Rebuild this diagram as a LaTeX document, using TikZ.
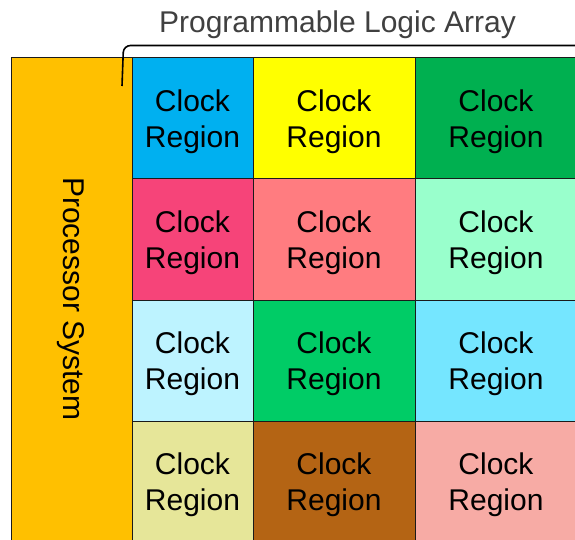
\documentclass[tikz,border=0pt]{standalone}
\usepackage{fontspec}
\setmainfont{Liberation Sans}
\definecolor{psorange}{HTML}{FFC000}
\definecolor{rblue}{HTML}{00B0F0}
\definecolor{ryellow}{HTML}{FFFF00}
\definecolor{rgreen}{HTML}{00B050}
\definecolor{rpink}{HTML}{F64479}
\definecolor{rsalmon}{HTML}{FF7C80}
\definecolor{rmint}{HTML}{99FFCC}
\definecolor{rice}{HTML}{BDF3FF}
\definecolor{rlime}{HTML}{00CC66}
\definecolor{rcyan}{HTML}{75E6FF}
\definecolor{rkhaki}{HTML}{E6E699}
\definecolor{rbrown}{HTML}{B46414}
\definecolor{rrose}{HTML}{F7ABA5}
\definecolor{edge}{HTML}{1A1A1A}
\definecolor{titlegray}{HTML}{404040}
% two-line cell text; the invisible rule lowers the pair slightly
\newcommand{\regiontext}{\rule{0pt}{28pt}Clock\\Region}
\begin{document}
\begin{tikzpicture}[x=1pt, y={(0pt,-1pt)},
  bigtext/.style={font=\fontsize{30}{36}\selectfont},
  region/.style={bigtext, draw=edge, line width=1pt, align=center, inner sep=0pt,
    minimum height=121pt, text=black},
  narrow/.style={region, minimum width=121pt},
  wide/.style={region, minimum width=162pt},
  procbox/.style={draw=edge, line width=1pt, fill=psorange, inner sep=0pt,
    minimum width=121pt, minimum height=484pt},
  proclabel/.style={bigtext, rotate=-90, text=black},
  heading/.style={bigtext, text=titlegray, anchor=base},
  bracket/.style={draw=black, line width=1.6pt, rounded corners=7pt}]
  \useasboundingbox (0,0) rectangle (575,540);
  \clip (0,0) rectangle (575,540);

  % processor system column
  \node[procbox] (ps) at (71.5,300) {};
  \node[proclabel] (pslabel) at (71,299) {Processor System};

  % clock regions: rows at y = 118.5, 239.5, 360.5, 481.5
  \foreach \r/\y/\ca/\cb/\cc in {1/118.5/rblue/ryellow/rgreen,
                                 2/239.5/rpink/rsalmon/rmint,
                                 3/360.5/rice/rlime/rcyan,
                                 4/481.5/rkhaki/rbrown/rrose}{
    \node[narrow, fill=\ca] (c\r1) at (192.5,\y) {\regiontext};
    \node[wide, fill=\cb] (c\r2) at (334,\y) {\regiontext};
    \node[wide, fill=\cc] (c\r3) at (496,\y) {\regiontext};
  }

  % label and bracket over the logic array
  \node[heading] (pla) at (337.5,33) {Programmable Logic Array};
  \coordinate (brL) at (122,86);
  \coordinate (brR) at (590,45.5);
  \draw[bracket] (brL) -- (123.5,45.5) -- (brR);
\end{tikzpicture}
\end{document}
